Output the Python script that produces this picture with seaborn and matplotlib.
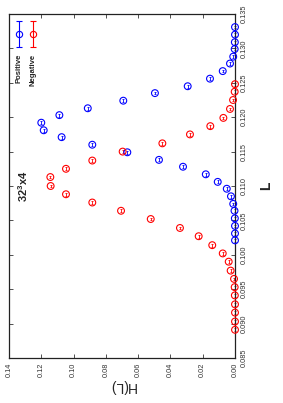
import seaborn as sns
import numpy as np
import matplotlib.pyplot as plt
import pandas as pd
from matplotlib.ticker import FormatStrFormatter, MultipleLocator

L_pos = [0.1331, 0.1320, 0.1309, 0.1299, 0.1288, 0.1278, 0.1267, 0.1256, 0.1245, 0.1235,
         0.1224, 0.1213, 0.1203, 0.1192, 0.1181, 0.1171, 0.1160, 0.1149, 0.1138, 0.1128,
         0.1117, 0.1106, 0.1096, 0.1085, 0.1074, 0.1064, 0.1053, 0.1042, 0.1031, 0.1021]
H_pos = [0.0000, 0.0000, 0.0001, 0.0002, 0.0011, 0.0031, 0.0076, 0.0155, 0.0293, 0.0496,
         0.0692, 0.0912, 0.1088, 0.1200, 0.1185, 0.1074, 0.0884, 0.0667, 0.0471, 0.0322,
         0.0181, 0.0107, 0.0051, 0.0025, 0.0011, 0.0003, 0.0001, 0.0000, 0.0000, 0.0000]
L_neg = [0.1248, 0.1237, 0.1225, 0.1212, 0.1199, 0.1187, 0.1175, 0.1162, 0.1150, 0.1137,
         0.1125, 0.1113, 0.1100, 0.1088, 0.1076, 0.1064, 0.1052, 0.1039, 0.1027, 0.1014,
         0.1002, 0.0990, 0.0977, 0.0965, 0.0953, 0.0941, 0.0928, 0.0916, 0.0903, 0.0891]
H_neg = [0.0000, 0.0002, 0.0012, 0.0031, 0.0072, 0.0153, 0.0279, 0.0450, 0.0696, 0.0884,
         0.1047, 0.1144, 0.1142, 0.1047, 0.0884, 0.0706, 0.0522, 0.0341, 0.0225, 0.0141,
         0.0076, 0.0039, 0.0027, 0.0006, 0.0002, 0.0001, 0.0000, 0.0000, 0.0000, 0.0000]
L_err = 0.0002

series = ['Positive', 'Negative']
colors = {'Positive': '#0000ff', 'Negative': '#ff0000'}

data = pd.concat([
    pd.DataFrame({'H': H_pos, 'L': L_pos, 'sign': 'Positive'}),
    pd.DataFrame({'H': H_neg, 'L': L_neg, 'sign': 'Negative'}),
])

sns.set_style('ticks')
plt.rcParams['font.family'] = ['Liberation Sans', 'DejaVu Sans']
plt.rcParams['mathtext.fontset'] = 'custom'
plt.rcParams['mathtext.rm'] = 'Liberation Sans'
plt.rcParams['mathtext.bf'] = 'Liberation Sans:bold'

fig = plt.figure(figsize=(2.83, 4.03), dpi=100)
ax = fig.add_axes([9 / 283, 45 / 403, 226 / 283, 344 / 403])

sns.scatterplot(data=data, x='H', y='L', hue='sign', palette=colors, s=24,
                linewidth=0.8, legend=False, ax=ax, clip_on=False, zorder=3)
pts = ax.collections[-1]
pts.set_edgecolors(pts.get_facecolors())
pts.set_facecolors('none')

for name, hh, ll in [('Positive', H_pos, L_pos), ('Negative', H_neg, L_neg)]:
    ax.errorbar(hh, ll, yerr=L_err, fmt='none', ecolor=colors[name],
                elinewidth=0.6, capsize=0.8, capthick=0.6, clip_on=False)

ax.set_xlim(0.14, 0.0)
ax.set_ylim(0.085, 0.135)
ax.xaxis.set_major_locator(MultipleLocator(0.02))
ax.yaxis.set_major_locator(MultipleLocator(0.005))
ax.xaxis.set_major_formatter(FormatStrFormatter('%.2f'))
ax.yaxis.set_major_formatter(FormatStrFormatter('%.3f'))
ax.tick_params(direction='in', length=3, width=0.6, labelsize=5.3, colors='#333333',
               top=True, bottom=True, left=True, right=True,
               labelleft=False, labelright=True)
ax.tick_params(axis='x', labelrotation=90, pad=3)
ax.tick_params(axis='y', labelrotation=90, pad=4.5)
for lab in ax.get_yticklabels():
    lab.set_va('center')
for sp in ax.spines.values():
    sp.set_linewidth(0.9)
    sp.set_color('#222222')

ax.set_xlabel('H(L)', rotation=180, fontsize=10, labelpad=2)
ax.yaxis.set_label_position('right')
ax.set_ylabel('L', rotation=90, fontsize=10, fontweight='bold', labelpad=8)

# legend, drawn rotated like the rest of the figure
for i, name in enumerate(series):
    xl = 0.044 + i * 0.062
    ax.errorbar([xl], [0.942], yerr=[0.038], fmt='o', mfc='none', mec=colors[name],
                ms=4.5, mew=0.8, ecolor=colors[name], elinewidth=0.8, capsize=2,
                transform=ax.transAxes)
    ax.text(xl, 0.884, name, rotation=90, ha='center', va='top', fontsize=5.6,
            fontweight='bold', transform=ax.transAxes)

ax.text(0.062, 0.5, r'$\mathbf{32^{3}x4}$', rotation=90, ha='center', va='center',
        fontsize=8, transform=ax.transAxes)

fig.savefig('out.png', dpi=100)
plt.close()
